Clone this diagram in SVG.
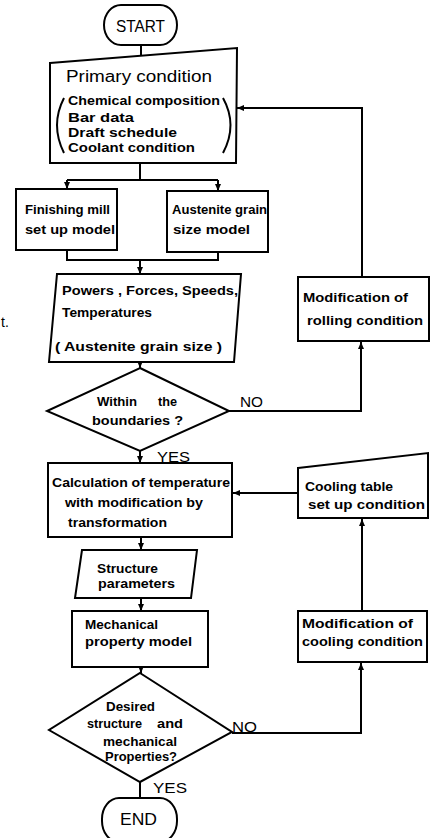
<svg xmlns="http://www.w3.org/2000/svg" width="437" height="838" viewBox="0 0 437 838">
<style>
.s{fill:#fff;stroke:#000;stroke-width:2;stroke-linejoin:miter}
.c{fill:none;stroke:#000;stroke-width:2}
text{font-family:"Liberation Sans",Arial,sans-serif;fill:#000}
.t{font-size:12.5px;font-weight:bold}
.b{font-size:16px}
.l{font-size:15px}
</style>
<defs>
<marker id="ah" markerUnits="userSpaceOnUse" markerWidth="8" markerHeight="8" refX="7" refY="4" orient="auto">
<path d="M0,1 L7,4 L0,7 Z" fill="#000"/>
</marker>
</defs>
<rect width="437" height="838" fill="#fff"/>
<g id="connectors">
<path class="c" d="M141 45 V56"/>
<path class="c" d="M140 163 V180"/>
<path class="c" d="M67 180 H218"/>
<path class="c" d="M67 180 V189" marker-end="url(#ah)"/>
<path class="c" d="M218 180 V191" marker-end="url(#ah)"/>
<path class="c" d="M67 250 V260 H218 V252"/>
<path class="c" d="M140 260 V274" marker-end="url(#ah)"/>
<path class="c" d="M140 362 V368" marker-end="url(#ah)"/>
<path class="c" d="M229 411 H361 V342" marker-end="url(#ah)"/>
<path class="c" d="M362 277 V108 H237" marker-end="url(#ah)"/>
<path class="c" d="M140 451 V463" marker-end="url(#ah)"/>
<path class="c" d="M298 493 H233" marker-end="url(#ah)"/>
<path class="c" d="M141 537 V550" marker-end="url(#ah)"/>
<path class="c" d="M141 598 V611" marker-end="url(#ah)"/>
<path class="c" d="M141 667 V673" marker-end="url(#ah)"/>
<path class="c" d="M232 733 H361 V663" marker-end="url(#ah)"/>
<path class="c" d="M362 611 V519" marker-end="url(#ah)"/>
<path class="c" d="M140 782 V798"/>
</g>
<g id="start">
<rect class="s" x="104" y="5" width="73" height="40" rx="17" ry="20"/>
<text class="b" x="116" y="32" font-size="18" textLength="49" lengthAdjust="spacingAndGlyphs">START</text>
</g>
<g id="primary">
<polygon class="s" points="50,63 237,48 236,163 50,163"/>
<text class="b" x="66" y="82" font-size="17" textLength="146" lengthAdjust="spacingAndGlyphs">Primary condition</text>
<text class="t" x="68" y="105" textLength="152" lengthAdjust="spacingAndGlyphs">Chemical composition</text>
<text class="t" x="68" y="122" textLength="66" lengthAdjust="spacingAndGlyphs">Bar data</text>
<text class="t" x="68" y="137" textLength="109" lengthAdjust="spacingAndGlyphs">Draft schedule</text>
<text class="t" x="68" y="152" textLength="127" lengthAdjust="spacingAndGlyphs">Coolant condition</text>
<path class="c" d="M64 98 Q50 125 64 153"/>
<path class="c" d="M223 98 Q238 125 223 153"/>
</g>
<g id="finishing">
<rect class="s" x="16" y="189" width="101" height="61"/>
<text class="t" x="25" y="214" textLength="85" lengthAdjust="spacingAndGlyphs">Finishing mill</text>
<text class="t" x="25" y="234" textLength="90" lengthAdjust="spacingAndGlyphs">set up model</text>
</g>
<g id="austenite">
<rect class="s" x="167" y="191" width="101" height="61"/>
<text class="t" x="172" y="214" textLength="95" lengthAdjust="spacingAndGlyphs">Austenite grain</text>
<text class="t" x="173" y="234" textLength="77" lengthAdjust="spacingAndGlyphs">size model</text>
</g>
<text x="1" y="327" font-size="14">t.</text>
<g id="powers">
<polygon class="s" points="57,274 241,274 234,362 49,362"/>
<text class="t" x="62" y="295" textLength="176" lengthAdjust="spacingAndGlyphs">Powers , Forces, Speeds,</text>
<text class="t" x="62" y="317" textLength="90" lengthAdjust="spacingAndGlyphs">Temperatures</text>
<text class="t" x="55" y="351" textLength="167" lengthAdjust="spacingAndGlyphs">( Austenite grain size )</text>
</g>
<g id="decision1">
<polygon class="s" points="140,368 229,411 140,451 47,411"/>
<text class="t" y="406"><tspan x="97" textLength="40" lengthAdjust="spacingAndGlyphs">Within</tspan><tspan x="158" textLength="19" lengthAdjust="spacingAndGlyphs">the</tspan></text>
<text class="t" x="92" y="425" textLength="91" lengthAdjust="spacingAndGlyphs">boundaries ?</text>
<text class="l" x="240" y="407" textLength="23" lengthAdjust="spacingAndGlyphs">NO</text>
<text class="l" x="157" y="462" textLength="33" lengthAdjust="spacingAndGlyphs">YES</text>
</g>
<g id="rolling">
<rect class="s" x="298" y="277" width="131" height="64"/>
<text class="t" x="303" y="302" textLength="105" lengthAdjust="spacingAndGlyphs">Modification of</text>
<text class="t" x="307" y="325" textLength="116" lengthAdjust="spacingAndGlyphs">rolling condition</text>
</g>
<g id="calculation">
<rect class="s" x="48" y="463" width="184" height="74"/>
<text class="t" x="52" y="487" textLength="178" lengthAdjust="spacingAndGlyphs">Calculation of temperature</text>
<text class="t" x="65" y="507" textLength="138" lengthAdjust="spacingAndGlyphs">with modification  by</text>
<text class="t" x="68" y="527" textLength="99" lengthAdjust="spacingAndGlyphs">transformation</text>
</g>
<g id="cooling-table">
<polygon class="s" points="298,468 428,453 428,518 298,518"/>
<text class="t" x="305" y="491" textLength="88" lengthAdjust="spacingAndGlyphs">Cooling table</text>
<text class="t" x="308" y="509" textLength="117" lengthAdjust="spacingAndGlyphs">set up condition</text>
</g>
<g id="structure">
<polygon class="s" points="82,550 197,550 191,598 75,598"/>
<text class="t" x="97" y="573" textLength="61" lengthAdjust="spacingAndGlyphs">Structure</text>
<text class="t" x="98" y="588" textLength="77" lengthAdjust="spacingAndGlyphs">parameters</text>
</g>
<g id="mechanical">
<rect class="s" x="72" y="611" width="136" height="56"/>
<text class="t" x="85" y="629" textLength="73" lengthAdjust="spacingAndGlyphs">Mechanical</text>
<text class="t" x="85" y="646" textLength="107" lengthAdjust="spacingAndGlyphs">property model</text>
</g>
<g id="cooling-mod">
<rect class="s" x="298" y="611" width="129" height="51"/>
<text class="t" x="302" y="628" textLength="111" lengthAdjust="spacingAndGlyphs">Modification of</text>
<text class="t" x="302" y="646" textLength="121" lengthAdjust="spacingAndGlyphs">cooling condition</text>
</g>
<g id="decision2">
<polygon class="s" points="140,673 232,732 140,782 49,730"/>
<text class="t" x="106" y="711" textLength="49" lengthAdjust="spacingAndGlyphs">Desired</text>
<text class="t" y="728"><tspan x="87" textLength="55" lengthAdjust="spacingAndGlyphs">structure</tspan><tspan x="157" textLength="26" lengthAdjust="spacingAndGlyphs">and</tspan></text>
<text class="t" x="103" y="746" textLength="74" lengthAdjust="spacingAndGlyphs">mechanical</text>
<text class="t" x="105" y="761" textLength="72" lengthAdjust="spacingAndGlyphs">Properties?</text>
<text class="l" x="232" y="732" textLength="25" lengthAdjust="spacingAndGlyphs">NO</text>
<text class="l" x="153" y="793" textLength="34" lengthAdjust="spacingAndGlyphs">YES</text>
</g>
<g id="end">
<rect class="s" x="102" y="798" width="75" height="44" rx="17" ry="21"/>
<text class="b" x="120" y="825" textLength="37" lengthAdjust="spacingAndGlyphs">END</text>
</g>
</svg>
